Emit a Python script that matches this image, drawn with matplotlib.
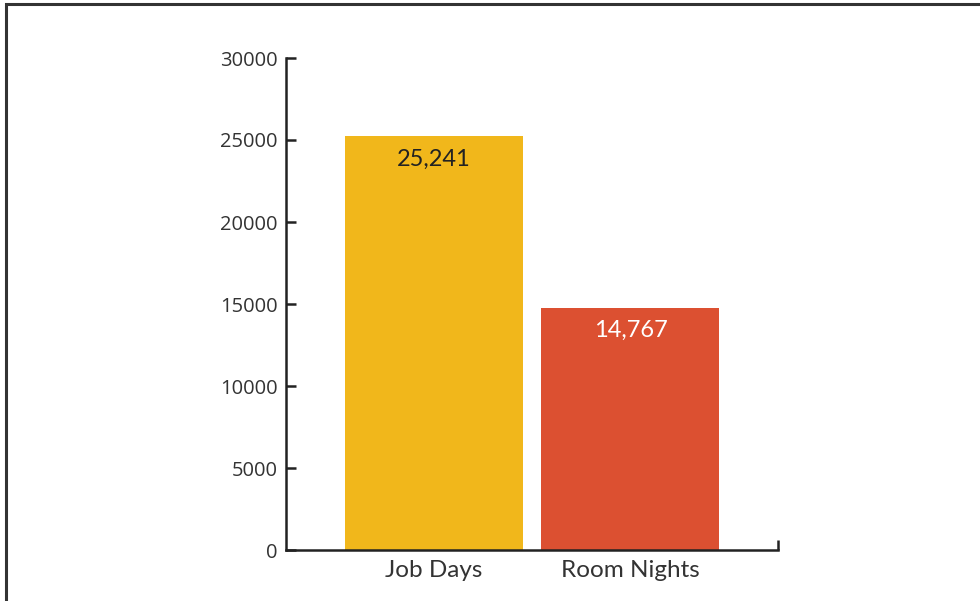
import matplotlib.pyplot as plt
from matplotlib.patches import Rectangle

# data
categories = ["Job Days", "Room Nights"]
values = [25241, 14767]
bar_colors = ["#F1B71B", "#DC5031"]
label_colors = ["#222222", "#FFFFFF"]
y_ticks = [0, 5000, 10000, 15000, 20000, 25000, 30000]

fig = plt.figure(figsize=(9.8, 6.01), dpi=100)
ax = fig.add_axes([286 / 980, 51 / 601, 492 / 980, 492 / 601])

x = range(len(categories))
bars = ax.bar(x, values, width=0.905, color=bar_colors)

for b, v, c in zip(bars, values, label_colors):
    ax.text(b.get_x() + b.get_width() / 2, v - 750, f"{v:,}",
            ha="center", va="top", fontsize=17, color=c, family="Lato")

ax.set_xlim(-0.75, 1.75)
ax.set_ylim(0, 30000)
ax.set_yticks(y_ticks)
ax.set_yticklabels([str(t) for t in y_ticks], family="Open Sans", fontsize=14.5, color="#333333")
ax.set_xticks(list(x))
ax.set_xticklabels(categories, family="Lato", fontsize=17.5, color="#333333")

# small end tick on the right of the x axis
ax.set_xticks([1.75], minor=True)
ax.tick_params(axis="x", which="major", length=0, pad=7)
ax.tick_params(axis="x", which="minor", direction="in", length=7, width=1.8, color="#222222")
ax.tick_params(axis="y", direction="in", length=7, width=1.8, color="#222222", pad=6)

for side in ["top", "right"]:
    ax.spines[side].set_visible(False)
for side in ["left", "bottom"]:
    ax.spines[side].set_linewidth(1.8)
    ax.spines[side].set_color("#222222")

# frame around the figure
fig.patches.append(Rectangle((6 / 980, -0.05), 1.1, 1 - 4 / 601 + 0.05,
                             transform=fig.transFigure, fill=False,
                             edgecolor="#333333", linewidth=2.2))

fig.savefig("out.png", dpi=100)
